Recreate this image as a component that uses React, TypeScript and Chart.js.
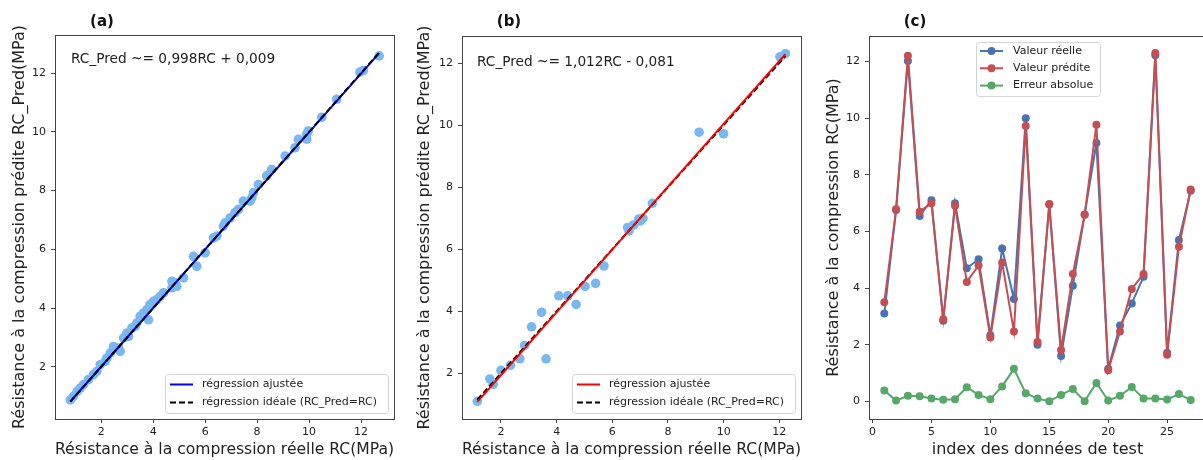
import React, { useEffect, useRef } from 'react';
import { Chart, registerables } from 'chart.js';
Chart.register(...registerables);

// ---------- DATA ----------
// (a) training set: real vs predicted
const trainReal = [0.81, 0.93, 1.07, 1.19, 1.32, 1.51, 1.70, 1.83, 1.96, 2.15, 2.22, 2.35, 2.47, 2.54, 2.67, 2.73, 2.86, 2.99, 3.05, 3.18, 3.31, 3.37, 3.50, 3.63, 3.82, 3.76, 3.88, 4.01, 4.14, 4.27, 4.40, 4.72, 4.72, 4.85, 4.91, 5.17, 5.55, 5.68, 6.00, 6.32, 6.45, 6.70, 6.77, 6.96, 7.15, 7.28, 7.47, 7.73, 7.80, 7.86, 8.05, 8.37, 8.56, 9.08, 9.46, 9.59, 9.91, 9.91, 9.97, 10.49, 11.06, 11.96, 12.09, 12.70];
const trainPred = [0.87, 0.99, 1.16, 1.27, 1.39, 1.56, 1.73, 1.84, 2.07, 2.18, 2.30, 2.47, 2.69, 2.64, 2.64, 2.52, 2.98, 3.15, 3.03, 3.32, 3.38, 3.49, 3.72, 3.83, 3.60, 3.95, 4.12, 4.23, 4.29, 4.40, 4.52, 4.69, 4.91, 4.86, 4.74, 5.03, 5.76, 5.42, 5.88, 6.39, 6.45, 6.79, 6.90, 7.07, 7.25, 7.36, 7.64, 7.64, 7.76, 7.93, 8.21, 8.50, 8.72, 9.18, 9.46, 9.75, 9.75, 9.92, 10.03, 10.50, 11.11, 12.04, 12.09, 12.59];
const slopeA = 0.998;
const interceptA = 0.009;

// (b)/(c) test set
const testIndex = [1, 2, 3, 4, 5, 6, 7, 8, 9, 10, 11, 12, 13, 14, 15, 16, 17, 18, 19, 20, 21, 22, 23, 24, 25, 26, 27];
const testReal = [3.10, 6.76, 12.02, 6.55, 7.10, 2.85, 7.00, 4.70, 5.02, 2.34, 5.40, 3.62, 10.00, 2.00, 6.95, 1.60, 4.08, 6.60, 9.12, 1.15, 2.68, 3.46, 4.40, 12.22, 1.72, 5.70, 7.44];
const testPred = [3.50, 6.78, 12.20, 6.70, 7.00, 2.90, 6.91, 4.22, 4.80, 2.26, 4.90, 2.47, 9.72, 2.10, 6.97, 1.82, 4.50, 6.59, 9.77, 1.10, 2.47, 3.97, 4.50, 12.30, 1.65, 5.46, 7.48];
const absError = [0.39, 0.03, 0.20, 0.18, 0.10, 0.06, 0.08, 0.50, 0.23, 0.08, 0.53, 1.15, 0.29, 0.10, 0.01, 0.23, 0.44, 0.01, 0.65, 0.03, 0.20, 0.51, 0.10, 0.10, 0.07, 0.26, 0.05];
const slopeB = 1.012;
const interceptB = -0.081;

const ticksAB = [2, 4, 6, 8, 10, 12];
const ticksCx = [0, 5, 10, 15, 20, 25];
const ticksCy = [0, 2, 4, 6, 8, 10, 12];

const xTitleAB = 'Résistance à la compression réelle RC(MPa)';
const yTitleAB = 'Résistance à la compression prédite RC_Pred(MPa)';
const xTitleC = 'index des données de test';
const yTitleC = 'Résistance à la compression RC(MPa)';
const eqA = 'RC_Pred ~= 0,998RC + 0,009';
const eqB = 'RC_Pred ~= 1,012RC - 0,081';
const legendAB = ['régression ajustée', 'régression idéale (RC_Pred=RC)'];
const legendC = ['Valeur réelle', 'Valeur prédite', 'Erreur absolue'];

// ---------- STYLE ----------
const FAM = '"DejaVu Sans", sans-serif';
const AXC = '#444';
const TXT = '#222';
const C_SCATTER = '#79b8ee';
const C_BLUE = '#4c72b0';
const C_RED = '#c44e52';
const C_GREEN = '#55a868';

function scale(min: number, max: number, ticks: number[], title: string, isX: boolean, size: number, titlePad: number) {
  return {
    type: 'linear',
    min,
    max,
    afterBuildTicks: (s: any) => { s.ticks = ticks.map((v) => ({ value: v })); },
    afterFit: (s: any) => { if (isX) s.height = size; else s.width = size; },
    grid: { drawOnChartArea: false, drawTicks: true, tickLength: 4, color: AXC, lineWidth: 1 },
    border: { color: AXC, width: 1 },
    ticks: { font: { family: FAM, size: 11 }, color: TXT, padding: isX ? 3 : 5, maxRotation: 0, autoSkip: false },
    title: {
      display: true, text: title, color: TXT, font: { family: FAM, size: 16 },
      padding: isX ? { top: 0, bottom: 1 } : { top: titlePad, bottom: 0 },
    },
  };
}

type Leg = { kind: 'solid' | 'dash' | 'marker'; color: string; text: string; y: number };

function makePlugin(cfg: {
  label: string; labelX: number; labelY: number;
  eq?: string; eqX?: number; eqY?: number;
  box: { x: number; y: number; w: number; h: number };
  lineX: number; textX: number; legend: Leg[];
}) {
  return {
    id: 'decor',
    afterDraw(chart: any) {
      const ctx = chart.ctx as CanvasRenderingContext2D;
      const a = chart.chartArea;
      ctx.save();
      // frame
      ctx.strokeStyle = AXC;
      ctx.lineWidth = 1;
      ctx.strokeRect(Math.round(a.left) + 0.5, Math.round(a.top) + 0.5, Math.round(a.right - a.left), Math.round(a.bottom - a.top));
      // panel label
      ctx.fillStyle = '#111';
      ctx.font = `bold 15px ${FAM}`;
      ctx.textAlign = 'center';
      ctx.textBaseline = 'middle';
      ctx.fillText(cfg.label, cfg.labelX, cfg.labelY);
      // equation
      if (cfg.eq) {
        ctx.font = `13.7px ${FAM}`;
        ctx.textAlign = 'left';
        ctx.fillStyle = TXT;
        ctx.fillText(cfg.eq, cfg.eqX!, cfg.eqY!);
      }
      // legend box
      const b = cfg.box;
      ctx.beginPath();
      const r = 3;
      ctx.moveTo(b.x + r, b.y);
      ctx.arcTo(b.x + b.w, b.y, b.x + b.w, b.y + b.h, r);
      ctx.arcTo(b.x + b.w, b.y + b.h, b.x, b.y + b.h, r);
      ctx.arcTo(b.x, b.y + b.h, b.x, b.y, r);
      ctx.arcTo(b.x, b.y, b.x + b.w, b.y, r);
      ctx.closePath();
      ctx.fillStyle = 'rgba(255,255,255,0.85)';
      ctx.fill();
      ctx.strokeStyle = '#d4d4d4';
      ctx.stroke();
      ctx.font = `11px ${FAM}`;
      ctx.textAlign = 'left';
      ctx.textBaseline = 'middle';
      for (const it of cfg.legend) {
        ctx.beginPath();
        ctx.strokeStyle = it.color;
        ctx.lineWidth = 2;
        ctx.setLineDash(it.kind === 'dash' ? [6, 3] : []);
        ctx.moveTo(cfg.lineX, it.y);
        ctx.lineTo(cfg.lineX + 23, it.y);
        ctx.stroke();
        ctx.setLineDash([]);
        if (it.kind === 'marker') {
          ctx.beginPath();
          ctx.fillStyle = it.color;
          ctx.arc(cfg.lineX + 11.5, it.y, 4, 0, Math.PI * 2);
          ctx.fill();
        }
        ctx.fillStyle = TXT;
        ctx.fillText(it.text, cfg.textX, it.y);
      }
      ctx.restore();
    },
  };
}

function lineData(xs: number[], slope: number, intercept: number) {
  const lo = Math.min(...xs);
  const hi = Math.max(...xs);
  return [{ x: lo, y: slope * lo + intercept }, { x: hi, y: slope * hi + intercept }];
}

function buildA(): any {
  return {
    type: 'scatter',
    data: {
      datasets: [
        { type: 'line', data: lineData(trainReal, 1, 0), borderColor: '#000', borderDash: [6, 3], borderWidth: 2, pointRadius: 0, showLine: true, order: 1 },
        { type: 'line', data: lineData(trainReal, slopeA, interceptA), borderColor: '#0000ff', borderWidth: 2, pointRadius: 0, showLine: true, order: 2 },
        { data: trainReal.map((x, i) => ({ x, y: trainPred[i] })), backgroundColor: C_SCATTER, borderWidth: 0, pointRadius: 4.8, order: 3 },
      ],
    },
    options: {
      animation: false, responsive: false,
      layout: { padding: { left: 0, top: 35, right: 16, bottom: 0 } },
      scales: {
        x: scale(0.22, 13.27, ticksAB, xTitleAB, true, 41, 0),
        y: scale(0.22, 13.3, ticksAB, yTitleAB, false, 55, 10),
      },
      plugins: { legend: { display: false }, tooltip: { enabled: false } },
    },
    plugins: [makePlugin({
      label: '(a)', labelX: 102, labelY: 22, eq: eqA, eqX: 71, eqY: 59.5,
      box: { x: 165.5, y: 374.5, w: 223, h: 39 }, lineX: 170, textX: 202,
      legend: [
        { kind: 'solid', color: '#0000ff', text: legendAB[0], y: 384.5 },
        { kind: 'dash', color: '#000', text: legendAB[1], y: 402.5 },
      ],
    })],
  };
}

function buildB(): any {
  return {
    type: 'scatter',
    data: {
      datasets: [
        { type: 'line', data: lineData(testReal, 1, 0), borderColor: '#000', borderDash: [6, 3], borderWidth: 2, pointRadius: 0, showLine: true, order: 2 },
        { type: 'line', data: lineData(testReal, slopeB, interceptB), borderColor: '#ff0000', borderWidth: 2, pointRadius: 0, showLine: true, order: 1 },
        { data: testReal.map((x, i) => ({ x, y: testPred[i] })), backgroundColor: C_SCATTER, borderWidth: 0, pointRadius: 4.8, order: 3 },
      ],
    },
    options: {
      animation: false, responsive: false,
      layout: { padding: { left: 0, top: 36, right: 9, bottom: 0 } },
      scales: {
        x: scale(0.6, 12.78, ticksAB, xTitleAB, true, 41, 0),
        y: scale(0.53, 12.87, ticksAB, yTitleAB, false, 52, 5.5),
      },
      plugins: { legend: { display: false }, tooltip: { enabled: false } },
    },
    plugins: [makePlugin({
      label: '(b)', labelX: 99, labelY: 22, eq: eqB, eqX: 67, eqY: 62.5,
      box: { x: 162.5, y: 374.5, w: 223, h: 39 }, lineX: 167, textX: 199,
      legend: [
        { kind: 'solid', color: '#ff0000', text: legendAB[0], y: 384.5 },
        { kind: 'dash', color: '#000', text: legendAB[1], y: 402.5 },
      ],
    })],
  };
}

function buildC(): any {
  const mk = (vals: number[], color: string, order: number) => ({
    data: testIndex.map((x, i) => ({ x, y: vals[i] })),
    borderColor: color, backgroundColor: color, borderWidth: 2,
    pointRadius: 4, pointBorderWidth: 0, pointBackgroundColor: color, tension: 0, order,
  });
  return {
    type: 'line',
    data: {
      datasets: [mk(testReal, C_BLUE, 3), mk(testPred, C_RED, 2), mk(absError, C_GREEN, 1)],
    },
    options: {
      animation: false, responsive: false,
      layout: { padding: { left: 0, top: 36, right: 3.2, bottom: 0 } },
      scales: {
        x: scale(-0.3, 28.3, ticksCx, xTitleC, true, 41, 0),
        y: scale(-0.62, 12.9, ticksCy, yTitleC, false, 59, 14.4),
      },
      plugins: { legend: { display: false }, tooltip: { enabled: false } },
    },
    plugins: [makePlugin({
      label: '(c)', labelX: 105, labelY: 22,
      box: { x: 166.5, y: 42.5, w: 124, h: 54 }, lineX: 170, textX: 203,
      legend: [
        { kind: 'marker', color: C_BLUE, text: legendC[0], y: 51 },
        { kind: 'marker', color: C_RED, text: legendC[1], y: 68.3 },
        { kind: 'marker', color: C_GREEN, text: legendC[2], y: 85.6 },
      ],
    })],
  };
}

function Panel({ left, width, build }: { left: number; width: number; build: () => any }) {
  const ref = useRef<HTMLCanvasElement>(null);
  useEffect(() => {
    const chart = new Chart(ref.current as HTMLCanvasElement, build());
    return () => chart.destroy();
  }, []);
  return (
    <canvas ref={ref} width={width} height={460}
      style={{ position: 'absolute', left, top: 0, width, height: 460 }} />
  );
}

export default function App() {
  return (
    <div style={{ position: 'fixed', left: 0, top: 0, width: 1203, height: 460, overflow: 'hidden', background: '#fff' }}>
      <Panel left={0} width={410} build={buildA} />
      <Panel left={410} width={400} build={buildB} />
      <Panel left={810} width={400} build={buildC} />
    </div>
  );
}
